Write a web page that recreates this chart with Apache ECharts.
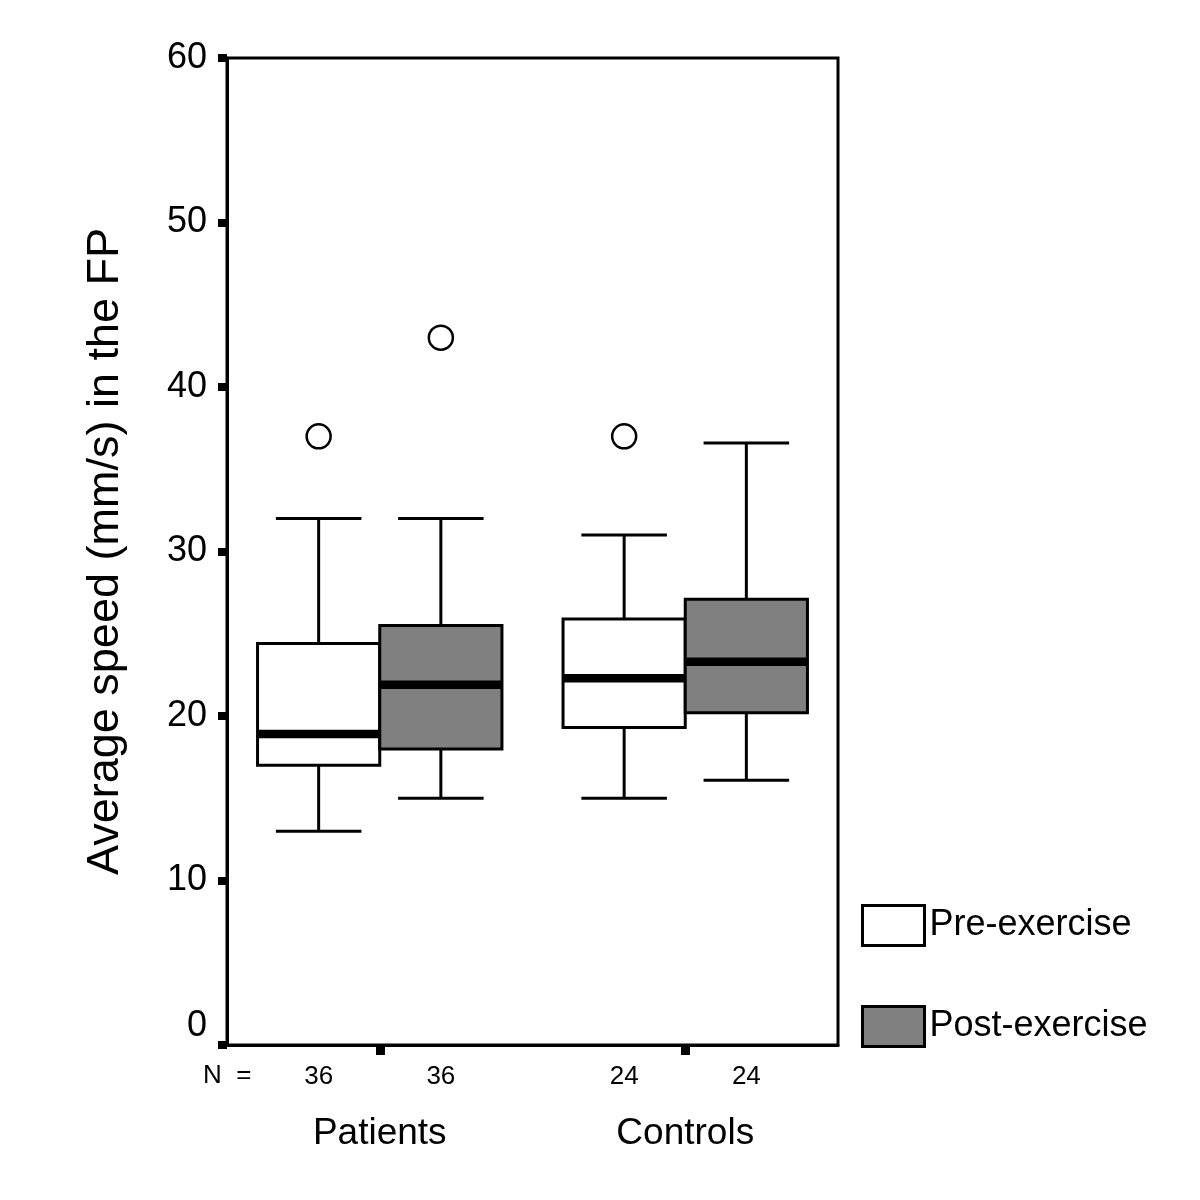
<!DOCTYPE html>
<html>
<head>
<meta charset="utf-8">
<script src="https://cdn.jsdelivr.net/npm/echarts@6/dist/echarts.min.js"></script>
<style>html,body{margin:0;padding:0;background:#fff}#c{width:1200px;height:1200px}</style>
</head>
<body>
<div id="c"></div>
<script>
var groups = ['Patients', 'Controls'];
var seriesNames = ['Pre-exercise', 'Post-exercise'];
// [groupIndex, min, q1, median, q3, max]
var preBoxes = [[0, 13, 17, 18.9, 24.4, 32], [1, 15, 19.3, 22.3, 25.9, 31]];
var postBoxes = [[0, 15, 18, 21.9, 25.5, 32], [1, 16.1, 20.2, 23.3, 27.1, 36.6]];
// [groupIndex, value]
var preOutliers = [[0, 37], [1, 37]];
var postOutliers = [[0, 43]];
var preN = [36, 24];
var postN = [36, 24];
var yTicks = [0, 10, 20, 30, 40, 50, 60];

var FONT = 'Liberation Sans';

function boxRenderer(side, nList) {
  return function (params, api) {
    var g = api.value(0);
    var center = api.coord([g, 0])[0];
    var bw = api.size([1, 0])[0];
    var boxW = bw * 0.4;
    var x0 = side < 0 ? center - boxW : center;
    var cx = x0 + boxW / 2;
    var capW = boxW * 0.7;
    var yMin = api.coord([g, api.value(1)])[1];
    var yQ1 = api.coord([g, api.value(2)])[1];
    var yMed = api.coord([g, api.value(3)])[1];
    var yQ3 = api.coord([g, api.value(4)])[1];
    var yMax = api.coord([g, api.value(5)])[1];
    var y0 = api.coord([g, 0])[1];
    var fill = api.visual('color');
    var ls = {stroke: '#000', lineWidth: 3};
    return {
      type: 'group',
      children: [
        {type: 'line', shape: {x1: cx, y1: yMax, x2: cx, y2: yQ3}, style: ls},
        {type: 'line', shape: {x1: cx, y1: yQ1, x2: cx, y2: yMin}, style: ls},
        {type: 'line', shape: {x1: cx - capW / 2, y1: yMax, x2: cx + capW / 2, y2: yMax}, style: ls},
        {type: 'line', shape: {x1: cx - capW / 2, y1: yMin, x2: cx + capW / 2, y2: yMin}, style: ls},
        {type: 'rect', shape: {x: x0, y: yQ3, width: boxW, height: yQ1 - yQ3}, style: {fill: fill, stroke: '#000', lineWidth: 3}},
        {type: 'line', shape: {x1: x0 + 1, y1: yMed, x2: x0 + boxW - 1, y2: yMed}, style: {stroke: '#000', lineWidth: 8.5}},
        {type: 'text', x: cx, y: y0 + 32, style: {text: String(nList[params.dataIndex]), fill: '#000', font: '26px "' + FONT + '"', align: 'center', verticalAlign: 'middle'}}
      ]
    };
  };
}

function outlierRenderer(side) {
  return function (params, api) {
    var g = api.value(0);
    var center = api.coord([g, 0])[0];
    var bw = api.size([1, 0])[0];
    var cx = center + side * bw * 0.2;
    var cy = api.coord([g, api.value(1)])[1];
    return {type: 'circle', shape: {cx: cx, cy: cy, r: 12}, style: {fill: '#fff', stroke: '#000', lineWidth: 2.5}};
  };
}

var chart = echarts.init(document.getElementById('c'), null, {renderer: 'canvas'});
chart.setOption({
  backgroundColor: '#fff',
  animation: false,
  textStyle: {fontFamily: FONT},
  grid: {left: 227, top: 58, right: 362, bottom: 155, show: true, borderColor: '#000', borderWidth: 3, backgroundColor: 'transparent'},
  legend: {
    orient: 'vertical', left: 861, top: 904, padding: 0,
    itemWidth: 62, itemHeight: 40, itemGap: 58,
    icon: 'rect',
    itemStyle: {borderColor: '#000', borderWidth: 3},
    textStyle: {fontSize: 36, color: '#000', fontFamily: FONT},
    data: seriesNames
  },
  xAxis: {
    type: 'category',
    data: groups,
    boundaryGap: true,
    axisLine: {show: true, lineStyle: {color: '#000', width: 3}},
    axisTick: {show: true, interval: 0, alignWithLabel: true, inside: false, length: 10, lineStyle: {color: '#000', width: 9}},
    axisLabel: {color: '#000', fontSize: 37, margin: 70, fontFamily: FONT, interval: 0},
    splitLine: {show: false}
  },
  yAxis: {
    type: 'value', min: yTicks[0], max: yTicks[yTicks.length - 1], interval: 10,
    name: 'Average speed (mm/s) in the FP',
    nameLocation: 'middle', nameGap: 99,
    nameTextStyle: {fontSize: 45, color: '#000', fontFamily: FONT},
    axisLine: {show: true, lineStyle: {color: '#000', width: 3}},
    axisTick: {show: true, length: 9, lineStyle: {color: '#000', width: 8}},
    axisLabel: {
      color: '#000', fontSize: 36, margin: 20, fontFamily: FONT,
      formatter: function (v) { return v === 0 ? '{z|0}' : String(v); },
      rich: {z: {fontSize: 36, color: '#000', fontFamily: FONT, padding: [0, 0, 38, 0]}}
    },
    splitLine: {show: false}
  },
  graphic: [
    {type: 'text', left: 203, top: 1063, style: {text: 'N  =', fill: '#000', font: '26px "' + FONT + '"'}}
  ],
  series: [
    {name: seriesNames[0], type: 'custom', data: preBoxes, renderItem: boxRenderer(-1, preN),
     itemStyle: {color: '#ffffff', borderColor: '#000', borderWidth: 3}, encode: {x: 0, y: [1, 2, 3, 4, 5]}, clip: false},
    {name: seriesNames[1], type: 'custom', data: postBoxes, renderItem: boxRenderer(1, postN),
     itemStyle: {color: '#808080', borderColor: '#000', borderWidth: 3}, encode: {x: 0, y: [1, 2, 3, 4, 5]}, clip: false},
    {name: 'preOut', type: 'custom', data: preOutliers, renderItem: outlierRenderer(-1), encode: {x: 0, y: 1}},
    {name: 'postOut', type: 'custom', data: postOutliers, renderItem: outlierRenderer(1), encode: {x: 0, y: 1}}
  ]
});
</script>
</body>
</html>
